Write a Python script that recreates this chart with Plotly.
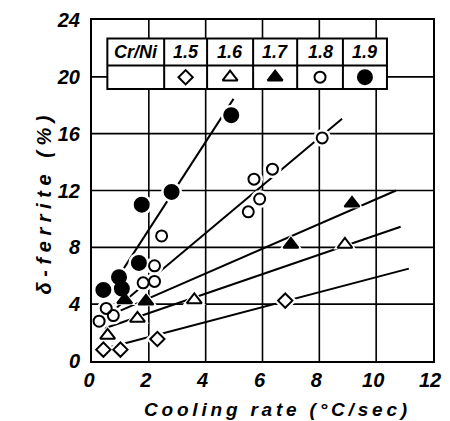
import plotly.graph_objects as go

# ---- data ----
ratios = ["1.5", "1.6", "1.7", "1.8", "1.9"]
symbols = ["diamond-open", "triangle-up-open", "triangle-up", "circle-open", "circle"]
marker_sizes = [11, 13, 13, 11, 14]

cooling_15 = [0.4, 1.0, 2.3, 6.8]
ferrite_15 = [0.8, 0.8, 1.55, 4.25]
cooling_16 = [0.55, 1.6, 3.6, 8.9]
ferrite_16 = [1.8, 3.0, 4.3, 8.2]
cooling_17 = [1.15, 1.9, 7.0, 9.15]
ferrite_17 = [4.3, 4.2, 8.2, 11.1]
cooling_18 = [0.25, 0.5, 0.75, 1.8, 2.2, 2.2, 2.45, 5.5, 5.7, 5.9, 6.35, 8.1]
ferrite_18 = [2.8, 3.7, 3.2, 5.5, 5.6, 6.7, 8.8, 10.5, 12.8, 11.4, 13.5, 15.7]
cooling_19 = [0.4, 0.95, 1.05, 1.65, 1.75, 2.8, 4.9]
ferrite_19 = [5.0, 5.9, 5.1, 6.9, 11.0, 11.9, 17.3]

fit_x_15 = [0.5, 11.15]; fit_y_15 = [0.9, 6.5]
fit_x_16 = [0.45, 10.86]; fit_y_16 = [2.3, 9.45]
fit_x_17 = [1.0, 10.7]; fit_y_17 = [3.55, 12.0]
fit_x_18 = [0.3, 8.8]; fit_y_18 = [2.8, 17.05]
fit_x_19 = [0.4, 4.98]; fit_y_19 = [4.3, 18.45]

x_ticks = [0, 2, 4, 6, 8, 10, 12]
y_ticks = [0, 4, 8, 12, 16, 20, 24]

series_x = [cooling_15, cooling_16, cooling_17, cooling_18, cooling_19]
series_y = [ferrite_15, ferrite_16, ferrite_17, ferrite_18, ferrite_19]
fits_x = [fit_x_15, fit_x_16, fit_x_17, fit_x_18, fit_x_19]
fits_y = [fit_y_15, fit_y_16, fit_y_17, fit_y_18, fit_y_19]

FONT = "Liberation Sans"
BI = dict(family=FONT, color="black", weight="bold", style="italic")
TS = "\u2009"  # thin space for letter spacing

fig = go.Figure()

# grid lines (drawn as shapes below the data)
for gx in x_ticks[1:-1]:
    fig.add_shape(type="line", x0=gx, x1=gx, y0=0, y1=24,
                  line=dict(color="black", width=1.6), layer="below")
for gy in y_ticks[1:-1]:
    fig.add_shape(type="line", x0=0, x1=12, y0=gy, y1=gy,
                  line=dict(color="black", width=1.6), layer="below")

# ---- legend table drawn inside the plot ----
col_edges = [0.54, 2.54, 4.05, 5.67, 7.22, 8.83, 10.38]
row_edges = [22.7, 20.8, 19.15]
fig.add_shape(type="rect", x0=col_edges[0], x1=col_edges[-1], y0=row_edges[-1],
              y1=row_edges[0], fillcolor="white", line=dict(color="black", width=2),
              layer="below")
fig.add_shape(type="line", x0=col_edges[0], x1=col_edges[-1], y0=row_edges[1],
              y1=row_edges[1], line=dict(color="black", width=2), layer="below")
for cx in col_edges[1:-1]:
    fig.add_shape(type="line", x0=cx, x1=cx, y0=row_edges[-1], y1=row_edges[0],
                  line=dict(color="black", width=2), layer="below")

header = ["Cr/Ni"] + ratios
for i, h in enumerate(header):
    fig.add_annotation(x=(col_edges[i] + col_edges[i + 1]) / 2,
                       y=(row_edges[0] + row_edges[1]) / 2, text=h, showarrow=False,
                       font=dict(size=18, **BI))
cell_x = [(col_edges[i] + col_edges[i + 1]) / 2 for i in range(1, 6)]
cell_y = [(row_edges[1] + row_edges[2]) / 2] * 5
for x, y, sym, sz in zip(cell_x, cell_y, symbols, marker_sizes):
    fig.add_trace(go.Scatter(x=[x], y=[y], mode="markers",
                             marker=dict(symbol=sym, size=sz, color="black",
                                         line=dict(color="black", width=2)),
                             showlegend=False, hoverinfo="skip"))

# fitted lines
for fx, fy in zip(fits_x, fits_y):
    fig.add_trace(go.Scatter(x=fx, y=fy, mode="lines",
                             line=dict(color="black", width=2), showlegend=False,
                             hoverinfo="skip"))

# white halos (gaps of the lines around markers)
for sx, sy, sym, sz in zip(series_x, series_y, symbols, marker_sizes):
    base = sym.replace("-open", "")
    fig.add_trace(go.Scatter(x=sx, y=sy, mode="markers",
                             marker=dict(symbol=base, size=sz + 7, color="white",
                                         line=dict(width=0)),
                             showlegend=False, hoverinfo="skip"))

# markers
for sx, sy, sym, sz, r in zip(series_x, series_y, symbols, marker_sizes, ratios):
    fig.add_trace(go.Scatter(x=sx, y=sy, mode="markers", name=r,
                             marker=dict(symbol=sym, size=sz, color="black",
                                         line=dict(color="black", width=2)),
                             showlegend=False))

axis_common = dict(showline=True, linecolor="black", linewidth=2, mirror=True,
                   showgrid=False, zeroline=False, ticklabeloverflow="allow",
                   ticks="", tickfont=dict(size=20, **BI))

fig.update_xaxes(range=[0, 12], tickvals=x_ticks, ticktext=[str(v) for v in x_ticks],
                 ticklabelstandoff=0, ticklabelshift=-3, **axis_common)
fig.update_yaxes(range=[0, 24], tickvals=y_ticks, ticktext=[str(v) for v in y_ticks],
                 ticklabelstandoff=6, **axis_common)

x_title = "Cooling rate (°C/sec)"
y_title = "δ-ferrite (%)"
fig.add_annotation(x=0.539, xref="paper", y=-0.143, yref="paper", yanchor="middle",
                   text=TS.join(x_title), showarrow=False,
                   font=dict(size=19, **BI))
fig.add_annotation(x=-0.18, xref="paper", y=0.458, yref="paper", textangle=-90,
                   text=" ".join(y_title).replace("e   (", "e&nbsp;&nbsp; ("),
                   showarrow=False, font=dict(size=20, **BI))

fig.update_layout(width=450, height=421, margin=dict(l=92, r=9, t=18, b=60),
                  plot_bgcolor="white", paper_bgcolor="white", showlegend=False)

fig.write_html("out.html", config={"displayModeBar": False},
               post_script="document.body.style.margin='0px';"
                           "document.body.style.overflow='hidden';")
